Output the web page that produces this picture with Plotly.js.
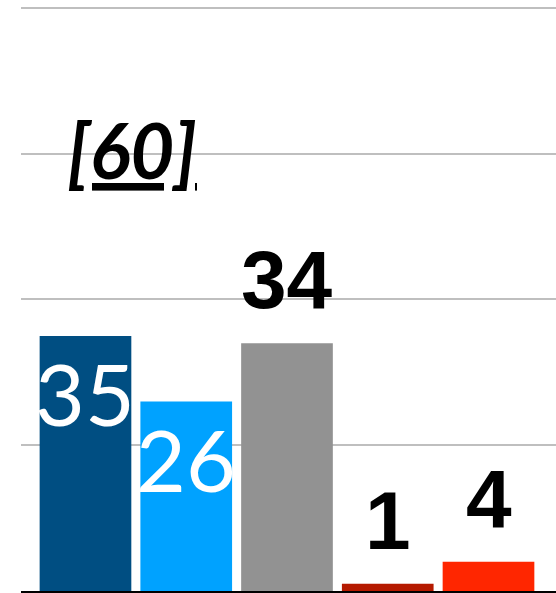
<!DOCTYPE html>
<html>
<head>
<meta charset="utf-8">
<script src="https://cdn.plot.ly/plotly-3.0.1.min.js"></script>
<style>html,body{margin:0;padding:0;background:#fff;}#chart{width:556px;height:593px;}</style>
</head>
<body>
<div id="chart"></div>
<script>
// Data
const categories = [0, 1, 2, 3, 4];
const values = [35, 26, 34, 1, 4];
const barColors = ['#004e82', '#00a2ff', '#929292', '#b51a00', '#ff2600'];
const labelInside = [true, true, false, false, false];
const noteText = '[60]';
const noteValue = 60;

const trace = {
  type: 'bar',
  x: categories,
  y: values,
  width: 0.91,
  marker: { color: barColors, line: { width: 0 } },
  hoverinfo: 'none'
};

const annotations = values.map((v, i) => labelInside[i] ? {
  x: categories[i], y: v, xref: 'x', yref: 'y',
  text: String(v), showarrow: false,
  yanchor: 'top', yshift: -3,
  font: { family: 'Lato', size: 86, color: '#ffffff' }
} : {
  x: categories[i], y: v, xref: 'x', yref: 'y',
  text: String(v), showarrow: false,
  yanchor: 'bottom', yshift: 16,
  font: { family: 'Liberation Sans', size: 82, color: '#000000', weight: 'bold' }
});

annotations.push({
  x: 0.207, xref: 'paper', xanchor: 'center', y: noteValue, yref: 'y',
  text: noteText, showarrow: false,
  yanchor: 'middle', yshift: 4,
  font: { family: 'Lato', size: 76, color: '#000000', weight: 'bold', style: 'italic', lineposition: 'under' }
});

const layout = {
  width: 556, height: 593,
  margin: { l: 21, r: 0, t: 5, b: 2, pad: 0 },
  paper_bgcolor: '#ffffff', plot_bgcolor: '#ffffff',
  showlegend: false,
  xaxis: {
    range: [-0.640, 4.670],
    showticklabels: false, ticks: '', showgrid: false, zeroline: false,
    showline: true, linecolor: '#000000', linewidth: 2, fixedrange: true
  },
  yaxis: {
    range: [0, 80.41], dtick: 20, tick0: 0,
    showticklabels: false, ticks: '', showgrid: true,
    gridcolor: '#bfbfbf', gridwidth: 2, zeroline: false, showline: false, fixedrange: true
  },
  annotations: annotations
};

Plotly.newPlot('chart', [trace], layout, { displayModeBar: false, staticPlot: true });
</script>
</body>
</html>
